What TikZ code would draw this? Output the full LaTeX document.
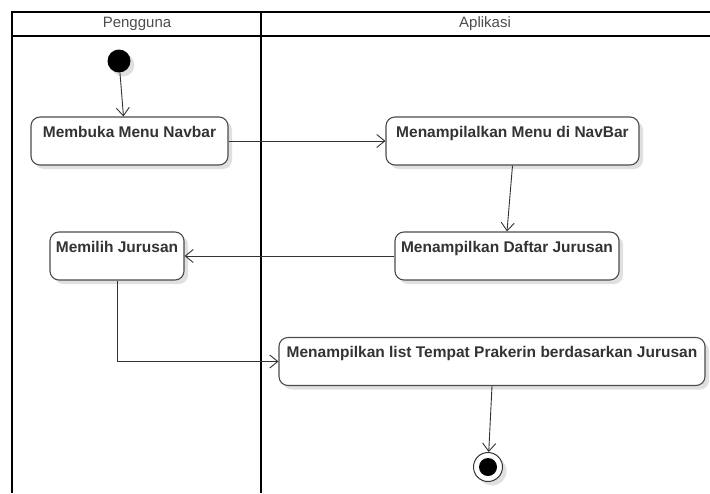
\documentclass[tikz,border=0pt]{standalone}
\usepackage{fontspec}
\setmainfont{Liberation Sans}
\usetikzlibrary{arrows.meta,shadows}
\begin{document}
\begin{tikzpicture}[x=1pt,y=-1pt,
  lane/.style={line width=2pt,black},
  shade/.style={drop shadow={fill=black!12,opacity=1,shadow xshift=4pt,shadow yshift=-4pt}},
  act/.style={draw=black!70,line width=1.1pt,rounded corners=9pt,fill=white,
    font=\fontsize{15.5}{18}\selectfont\bfseries,text=black!80,
    inner sep=0pt,text height=20pt,text depth=28pt,shade},
  flow/.style={black!80,line width=0.9pt,-{Straight Barb[length=8pt,width=13pt]}},
  hd/.style={font=\fontsize{15}{18}\selectfont,text=black!70}]
\useasboundingbox (0,0) rectangle (710,493);

% swimlanes
\draw[lane] (710,12) -- (12,12) -- (12,493);
\draw[lane] (12,36) -- (710,36);
\draw[lane] (261,12) -- (261,493);
\node[hd] (pengguna) at (137,24) {Pengguna};
\node[hd] (aplikasi) at (485,24) {Aplikasi};

% activities
\node[circle,fill=black,minimum size=23pt,inner sep=0pt,shade] (start) at (119,61) {};
\node[act,minimum width=197pt] (membuka) at (129.5,141) {Membuka Menu Navbar};
\node[act,minimum width=253pt] (menampil) at (512.5,141) {Menampilalkan Menu di NavBar};
\node[act,minimum width=224pt] (daftar) at (507,256) {Menampilkan Daftar Jurusan};
\node[act,minimum width=134pt] (memilih) at (117,256) {Memilih Jurusan};
\node[act,minimum width=426pt] (list) at (492,361.5) {Menampilkan list Tempat Prakerin berdasarkan Jurusan};
\node[circle,draw=black!80,line width=1pt,fill=white,minimum size=29pt,inner sep=0pt,shade] (end) at (488,467) {};
\node[circle,fill=black,minimum size=18pt,inner sep=0pt] (endin) at (end) {};

% flows
\draw[flow] (start) -- ([xshift=-6pt]membuka.north);
\draw[flow] (membuka) -- (menampil);
\draw[flow] (menampil.south) -- (daftar.north);
\draw[flow] (daftar) -- (memilih);
\draw[flow] (memilih.south) |- (list.west);
\draw[flow] (list.south) -- (end);
\end{tikzpicture}
\end{document}
